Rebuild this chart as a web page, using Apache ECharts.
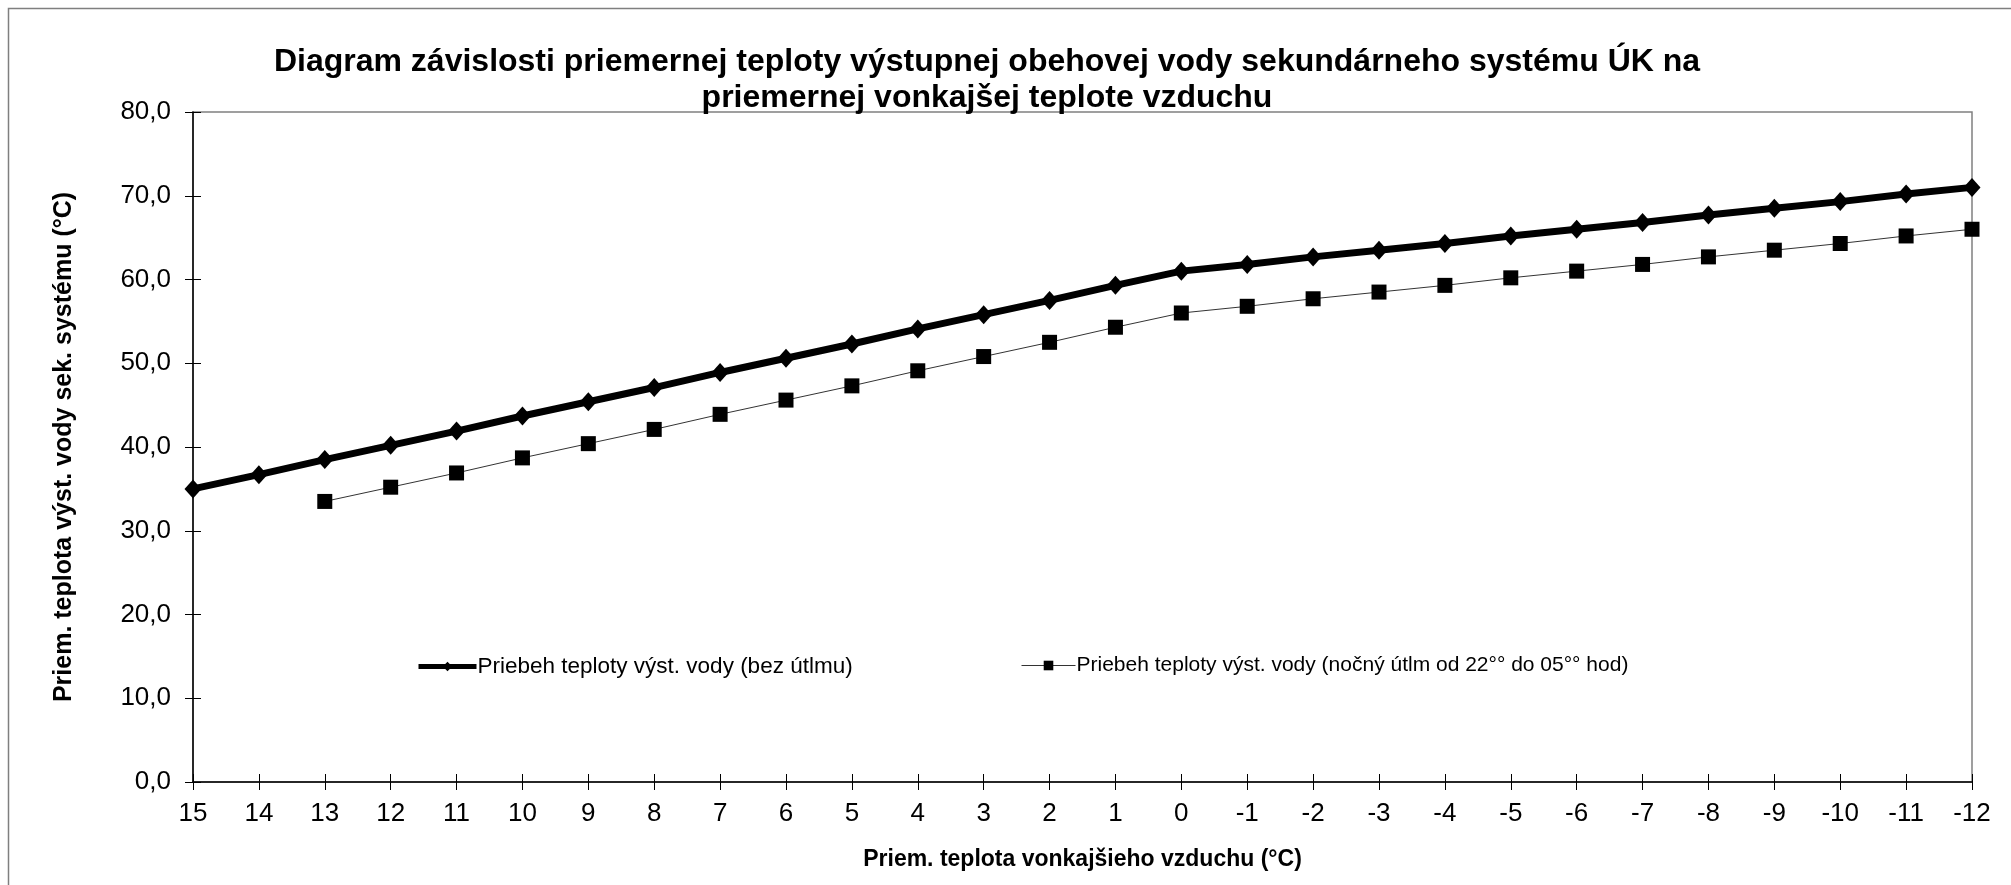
<!DOCTYPE html>
<html>
<head>
<meta charset="utf-8">
<script src="https://cdn.jsdelivr.net/npm/echarts@6/dist/echarts.min.js"></script>
<style>html,body{margin:0;padding:0;background:#fff}#c{width:2011px;height:885px}</style>
</head>
<body>
<div id="c"></div>
<script>
const categories = ['15','14','13','12','11','10','9','8','7','6','5','4','3','2','1','0','-1','-2','-3','-4','-5','-6','-7','-8','-9','-10','-11','-12'];
const seriesBez = [35.0, 36.7, 38.5, 40.2, 41.9, 43.7, 45.4, 47.1, 48.9, 50.6, 52.3, 54.1, 55.8, 57.5, 59.3, 61.0, 61.8, 62.7, 63.5, 64.3, 65.2, 66.0, 66.8, 67.7, 68.5, 69.3, 70.2, 71.0];
const seriesUtlm = [null, null, 33.5, 35.2, 36.9, 38.7, 40.4, 42.1, 43.9, 45.6, 47.3, 49.1, 50.8, 52.5, 54.3, 56.0, 56.8, 57.7, 58.5, 59.3, 60.2, 61.0, 61.8, 62.7, 63.5, 64.3, 65.2, 66.0];
const nameBez = 'Priebeh teploty výst. vody (bez útlmu)';
const nameUtlm = 'Priebeh teploty výst. vody (nočný útlm od 22°° do 05°° hod)';
const titleText = 'Diagram závislosti priemernej teploty výstupnej obehovej vody sekundárneho systému ÚK na\npriemernej vonkajšej teplote vzduchu';
const xName = 'Priem. teplota vonkajšieho vzduchu (°C)';
const yName = 'Priem. teplota výst. vody sek. systému (°C)';

const FONT = "'Liberation Sans', Arial, sans-serif";
const chart = echarts.init(document.getElementById('c'), null, {renderer: 'canvas'});
const yCommon = {type: 'value', min: 0, max: 80, interval: 10, position: 'left'};
chart.setOption({
  animation: false,
  backgroundColor: '#fff',
  textStyle: {fontFamily: FONT, color: '#000'},
  graphic: [{
    type: 'rect', silent: true, z: -1,
    shape: {x: 8.5, y: 8.5, width: 2100, height: 1000},
    style: {fill: 'none', stroke: '#7f7f7f', lineWidth: 1.5}
  }],
  title: {
    text: titleText,
    left: 982, top: 39, textAlign: 'center',
    textStyle: {fontFamily: FONT, fontSize: 32, fontWeight: 'bold', color: '#000', lineHeight: 36}
  },
  legend: [{
    data: [nameBez], left: 411, top: 650, itemWidth: 58, itemHeight: 12, itemGap: 0,
    textStyle: {fontFamily: FONT, fontSize: 22.5, color: '#000', padding: [0, 0, 0, -4]},
    lineStyle: {width: 5}
  }, {
    data: [nameUtlm], left: 1016, top: 650, itemWidth: 54, itemHeight: 12, itemGap: 0,
    textStyle: {fontFamily: FONT, fontSize: 21, color: '#000', padding: [0, 0, 0, -4]},
    lineStyle: {width: 1}
  }],
  grid: {left: 193, right: 39, top: 112, bottom: 103, show: true, borderColor: '#808080', borderWidth: 1.5, containLabel: false},
  xAxis: [{
    type: 'category', data: categories, boundaryGap: false, position: 'bottom',
    name: xName, nameLocation: 'middle', nameGap: 66,
    nameTextStyle: {fontFamily: FONT, fontSize: 23, fontWeight: 'bold', color: '#000'},
    axisLine: {lineStyle: {color: '#000', width: 1.5}},
    axisTick: {show: true, length: 8, lineStyle: {color: '#000'}},
    axisLabel: {fontFamily: FONT, fontSize: 26, color: '#000', margin: 19, interval: 0},
    splitLine: {show: false}
  }, {
    type: 'category', data: categories, boundaryGap: false, position: 'bottom',
    axisLine: {show: false},
    axisTick: {show: true, inside: true, length: 8, lineStyle: {color: '#000'}},
    axisLabel: {show: false}, splitLine: {show: false}
  }],
  yAxis: [Object.assign({}, yCommon, {
    name: yName, nameLocation: 'middle', nameGap: 116, nameRotate: 90,
    nameTextStyle: {fontFamily: FONT, fontSize: 25, fontWeight: 'bold', color: '#000'},
    axisLine: {show: true, lineStyle: {color: '#000', width: 1.5}},
    axisTick: {show: true, length: 8, lineStyle: {color: '#000'}},
    axisLabel: {fontFamily: FONT, fontSize: 26, color: '#000', margin: 22,
      formatter: v => v.toFixed(1).replace('.', ',')},
    splitLine: {show: false}
  }), Object.assign({}, yCommon, {
    axisLine: {show: false},
    axisTick: {show: true, inside: true, length: 8, lineStyle: {color: '#000'}},
    axisLabel: {show: false}, splitLine: {show: false}
  })],
  series: [{
    name: nameBez, type: 'line', data: seriesBez, xAxisIndex: 0, yAxisIndex: 0,
    symbol: 'diamond', symbolSize: [17, 19], showAllSymbol: true, clip: false,
    lineStyle: {color: '#000', width: 7},
    itemStyle: {color: '#000'}
  }, {
    name: nameUtlm, type: 'line', data: seriesUtlm, xAxisIndex: 0, yAxisIndex: 0,
    symbol: 'rect', symbolSize: 15, showAllSymbol: true, clip: false,
    lineStyle: {color: '#333', width: 1},
    itemStyle: {color: '#000'}
  }]
});
</script>
</body>
</html>
